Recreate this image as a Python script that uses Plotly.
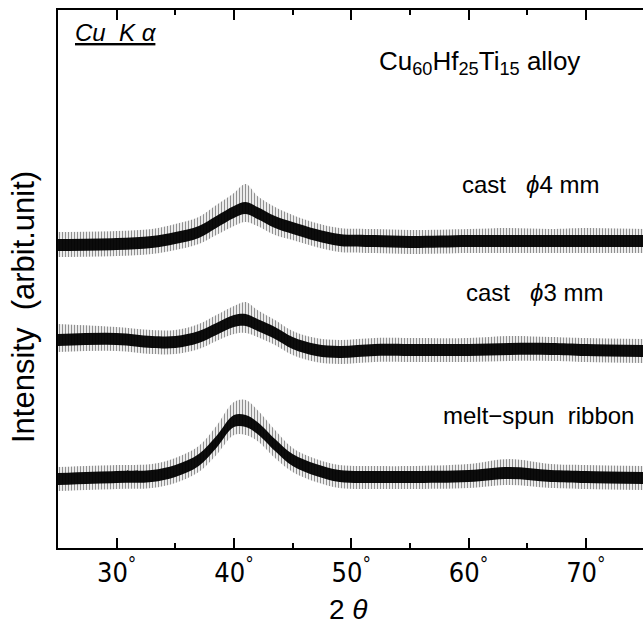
import plotly.graph_objects as go

# 2-theta sample positions (degrees)
two_theta = [25, 30, 33, 35, 37, 38.5, 40, 41, 42, 43.5, 45, 47, 49, 52, 55, 60, 63.5, 67, 70, 75]

# cast phi 4 mm : dense core of the noisy trace (upper / lower) and spike envelope (arb. units)
phi4_core_top = [309, 310, 312, 316, 322, 332, 342, 346, 341, 332, 326, 319, 314, 313, 312, 313, 313, 313, 313, 313]
phi4_core_bot = [297, 298, 300, 304, 310, 320, 330, 334, 329, 320, 314, 307, 302, 301, 300, 301, 301, 301, 301, 301]
phi4_spk_top = [316, 317, 319, 324, 331, 343, 355, 364, 352, 341, 333, 325, 320, 319, 318, 319, 320, 319, 320, 319]
phi4_spk_bot = [291, 292, 294, 298, 304, 313, 322, 326, 322, 313, 308, 301, 296, 295, 294, 295, 295, 295, 295, 295]

# cast phi 3 mm
phi3_core_top = [214, 215, 212, 212, 217, 225, 233, 234, 229, 221, 211, 204, 202, 204, 204, 204, 205, 205, 204, 203]
phi3_core_bot = [202, 203, 200, 200, 205, 213, 221, 222, 217, 209, 199, 192, 190, 192, 192, 192, 193, 193, 192, 191]
phi3_spk_top = [224, 221, 218, 218, 224, 233, 242, 246, 238, 228, 217, 210, 208, 210, 210, 210, 212, 211, 210, 209]
phi3_spk_bot = [196, 197, 194, 194, 199, 207, 214, 215, 211, 203, 193, 186, 184, 186, 186, 186, 187, 187, 186, 185]

# melt-spun ribbon
ribbon_core_top = [75, 77, 78, 83, 94, 112, 133, 133, 126, 109, 94, 84, 78, 77, 77, 78, 81, 78, 77, 76]
ribbon_core_bot = [63, 65, 66, 71, 82, 100, 121, 121, 114, 97, 82, 72, 66, 65, 65, 66, 69, 66, 65, 64]
ribbon_spk_top = [81, 83, 84, 90, 102, 122, 146, 148, 138, 118, 100, 89, 83, 82, 82, 84, 89, 84, 83, 82]
ribbon_spk_bot = [57, 59, 60, 65, 76, 93, 113, 113, 107, 90, 76, 66, 60, 59, 59, 60, 63, 60, 59, 58]

tick_vals = [30, 40, 50, 60, 70]
tick_text = ["30<sup>°</sup>", "40<sup>°</sup>", "50<sup>°</sup>", "60<sup>°</sup>", "70<sup>°</sup>"]
minor_vals = [35, 45, 55, 65]

fig = go.Figure()

def band(lo, hi, solid, pattern=None):
    fig.add_trace(go.Scatter(x=two_theta, y=lo, mode="lines", line=dict(width=0, color="black", shape="spline"),
                             showlegend=False, hoverinfo="skip"))
    kw = dict(fill="tonexty")
    if pattern:
        kw["fillpattern"] = pattern
        kw["fillcolor"] = "rgba(0,0,0,0)"
    else:
        kw["fillcolor"] = solid
    fig.add_trace(go.Scatter(x=two_theta, y=hi, mode="lines", line=dict(width=0, color="black", shape="spline"),
                             showlegend=False, hoverinfo="skip", **kw))

spike_pat = dict(shape="|", size=3, solidity=0.45, fgcolor="#222222", bgcolor="rgba(0,0,0,0)")
for lo, hi in [(phi4_spk_bot, phi4_spk_top), (phi3_spk_bot, phi3_spk_top), (ribbon_spk_bot, ribbon_spk_top)]:
    band(lo, hi, None, spike_pat)
for lo, hi in [(phi4_core_bot, phi4_core_top), (phi3_core_bot, phi3_core_top), (ribbon_core_bot, ribbon_core_top)]:
    band(lo, hi, "rgba(0,0,0,0.95)")

txt_font = "Liberation Sans, Arial, sans-serif"

fig.update_layout(
    width=643, height=636,
    margin=dict(l=58, r=0, t=10, b=88),
    paper_bgcolor="white", plot_bgcolor="white",
    xaxis=dict(range=[25, 74.87], tickvals=tick_vals, ticktext=tick_text,
               ticks="inside", ticklen=10, tickwidth=1.5, tickcolor="black",
               minor=dict(tickvals=minor_vals, ticks="inside", ticklen=5, tickwidth=1.5, tickcolor="black"),
               showline=True, linecolor="black", linewidth=2, mirror="ticks",
               showgrid=False, zeroline=False, ticklabelstandoff=0,
               tickfont=dict(family="Liberation Sans Narrow, DejaVu Sans Condensed, sans-serif", size=27, color="black")),
    yaxis=dict(range=[0, 538], showticklabels=False, ticks="", showline=True, linecolor="black",
               linewidth=1.5, showgrid=False, zeroline=False),
    annotations=[
        dict(text="<i>Cu  K α</i>", xref="paper", yref="paper", x=0.026, y=0.959, xanchor="left", yanchor="middle",
             showarrow=False, font=dict(family=txt_font, size=24, color="black", lineposition="under")),
        dict(text="Cu<sub>60</sub>Hf<sub>25</sub>Ti<sub>15</sub> alloy", xref="paper", yref="paper", x=0.721, y=0.903,
             xanchor="center", yanchor="middle", showarrow=False,
             font=dict(family=txt_font, size=26, color="black")),
        dict(text="cast   <i>ϕ</i>4 mm", xref="paper", yref="paper", x=0.807, y=0.675, xanchor="center", yanchor="middle",
             showarrow=False, font=dict(family=txt_font, size=24, color="black")),
        dict(text="cast   <i>ϕ</i>3 mm", xref="paper", yref="paper", x=0.815, y=0.474, xanchor="center", yanchor="middle",
             showarrow=False, font=dict(family=txt_font, size=24, color="black")),
        dict(text="melt−spun  ribbon", xref="paper", yref="paper", x=0.821, y=0.247, xanchor="center", yanchor="middle",
             showarrow=False, font=dict(family=txt_font, size=24, color="black")),
        dict(text="Intensity  (arbit.unit)", xref="paper", yref="paper", x=-0.058, y=0.448, xanchor="center",
             yanchor="middle", textangle=-90, showarrow=False, font=dict(family=txt_font, size=31, color="black")),
        dict(text="2 <i>θ</i>", xref="paper", yref="paper", x=0.497, y=-0.115, xanchor="center", yanchor="middle",
             showarrow=False, font=dict(family=txt_font, size=28, color="black")),
    ],
)

fig.write_html("out.html")
